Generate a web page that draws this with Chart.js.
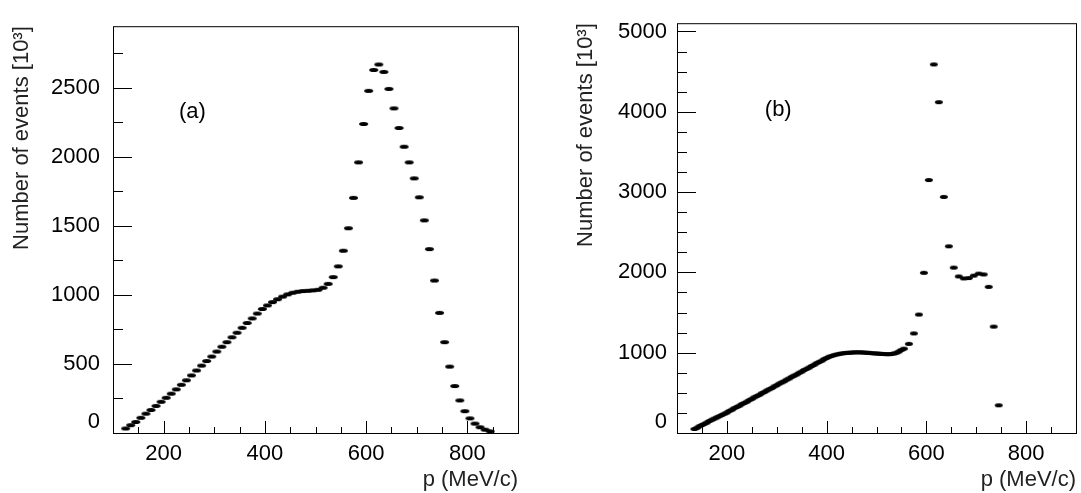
<!DOCTYPE html>
<html>
<head>
<meta charset="utf-8">
<script src="https://cdn.jsdelivr.net/npm/chart.js@4"></script>
<style>
  body { margin: 0; background: #fff; width: 1081px; height: 493px; overflow: hidden; position: relative; }
  .panel { position: absolute; top: 0; height: 493px; }
</style>
</head>
<body>
<div class="panel" style="left:0;width:540px"><canvas id="chartA"></canvas></div>
<div class="panel" style="left:540px;width:541px"><canvas id="chartB"></canvas></div>
<script>
// panel (a)
const pA = [125,135,145,155,165,175,185,195,205,215,225,235,245,255,265,275,285,295,305,315,
  325,335,345,355,365,375,385,395,405,415,425,435,445,455,465,475,485,495,505,515,
  525,535,545,555,565,575,585,595,605,615,625,635,645,655,665,675,685,695,705,715,
  725,735,745,755,765,775,785,795,805,815,825,835,845];
const nA = [33,57,80,110,140,167,196,226,255,285,316,349,382,417,453,488,521,554,590,625,
  658,693,726,762,797,830,865,898,924,948,969,988,1004,1016,1023,1028,1030,1033,1037,1052,
  1080,1129,1207,1320,1483,1703,1960,2238,2478,2629,2669,2615,2492,2351,2209,2073,1960,1844,1707,1540,
  1332,1104,870,658,481,340,236,158,106,68,42,24,12];

// panel (b)
const pB = [135,140,145,150,155,160,165,170,175,180,185,190,195,200,205,210,215,220,225,230,
  235,240,245,250,255,260,265,270,275,280,285,290,295,300,305,310,315,320,325,330,
  335,340,345,350,355,360,365,370,375,380,385,390,395,400,405,410,415,420,425,430,
  435,440,445,450,455,460,465,470,475,480,485,490,495,500,505,510,515,520,525,530,
  535,540,545,550,555,565,575,585,595,605,615,625,635,645,655,665,675,685,695,705,
  715,725,735,745];
const nB = [50,65,85,100,115,130,150,165,180,195,210,225,240,255,275,290,310,325,340,360,
  375,390,410,425,445,460,475,495,510,530,545,560,580,595,615,630,645,665,680,700,
  715,730,750,765,785,800,815,835,850,870,885,900,920,935,950,960,970,978,985,990,
  995,998,1000,1002,1004,1005,1005,1004,1002,1000,998,995,992,990,988,986,984,982,982,984,
  990,1000,1015,1035,1050,1110,1240,1475,1995,3150,4590,4120,2940,2325,2060,1950,1925,1930,1960,1985,
  1975,1820,1325,345];

const xTicks = [200, 400, 600, 800];
const yTicksA = [0, 500, 1000, 1500, 2000, 2500];
const yTicksB = [0, 1000, 2000, 3000, 4000, 5000];

const FONT = 'Liberation Sans, Arial, sans-serif';
const FS = 22;

function dotImage(w, h) {
  const c = document.createElement('canvas');
  c.width = w + 2; c.height = h + 2;
  const g = c.getContext('2d');
  g.fillStyle = '#000';
  g.beginPath();
  g.ellipse(c.width / 2, c.height / 2, w / 2, h / 2, 0, 0, Math.PI * 2);
  g.fill();
  return c;
}

// ROOT style ticks drawn inside the frame, plus frame, "0" label and panel tag
const innerTicks = {
  id: 'innerTicks',
  afterDraw(chart, args, opts) {
    const g = chart.ctx, a = chart.chartArea;
    const x = chart.scales.x, y = chart.scales.y;
    g.save();
    g.strokeStyle = '#000';
    g.lineWidth = 1;
    g.strokeRect(a.left + 0.5, a.top + 0.5, a.right - a.left, a.bottom - a.top);
    g.beginPath();
    for (let v = 100; v <= x.max; v += 50) {
      const px = Math.round(x.getPixelForValue(v)) + 0.5;
      if (px < a.left + 1 || px > a.right - 1) continue;
      const len = v % 200 === 0 ? 12 : 6;
      g.moveTo(px, a.bottom); g.lineTo(px, a.bottom - len);
    }
    for (let v = 250; v <= y.max; v += 250) {
      const py = Math.round(y.getPixelForValue(v)) + 0.5;
      if (py < a.top + 1) continue;
      const len = v % opts.yMajor === 0 ? 19 : 10;
      g.moveTo(a.left, py); g.lineTo(a.left + len, py);
    }
    g.stroke();
    g.font = FS + 'px ' + FONT;
    g.fillStyle = '#000';
    g.textAlign = 'right';
    g.textBaseline = 'middle';
    g.fillText('0', a.left - opts.gap, a.bottom - 11);
    g.textAlign = 'center';
    g.fillText(opts.label, x.getPixelForValue(opts.lx), y.getPixelForValue(opts.ly));
    g.restore();
  }
};

function makeChart(id, px, py, cfg) {
  return new Chart(document.getElementById(id), {
    type: 'scatter',
    data: {
      datasets: [{
        data: px.map((p, i) => ({ x: p, y: py[i] })),
        pointStyle: cfg.dot,
        pointRadius: 4,
        pointHoverRadius: 4,
      }],
    },
    options: {
      responsive: true,
      maintainAspectRatio: false,
      animation: false,
      events: [],
      layout: { padding: { top: 13, right: cfg.right, left: cfg.padLeft, bottom: 0 } },
      plugins: {
        legend: { display: false },
        tooltip: { enabled: false },
        innerTicks: cfg.ticks,
      },
      scales: {
        x: {
          type: 'linear', min: 100, max: 900,
          afterFit: (s) => { s.height = 60; },
          afterBuildTicks: (s) => { s.ticks = xTicks.map(v => ({ value: v })); },
          grid: { display: false, drawTicks: false },
          border: { display: false },
          ticks: { color: '#000', font: { family: FONT, size: FS }, padding: 8, maxRotation: 0, callback: (v) => String(v) },
          title: { display: true, text: 'p (MeV/c)', align: 'end', color: '#222', font: { family: FONT, size: FS }, padding: { top: -6, bottom: 0 } },
        },
        y: {
          type: 'linear', min: 0, max: cfg.yMax,
          afterFit: (s) => { s.width = cfg.left - cfg.padLeft; },
          afterBuildTicks: (s) => { s.ticks = cfg.yTicks.map(v => ({ value: v })); },
          grid: { display: false, drawTicks: false },
          border: { display: false },
          ticks: { color: '#000', font: { family: FONT, size: FS }, padding: cfg.ticks.gap,
            callback: (v) => v === 0 ? '' : String(v) },
          title: { display: true, text: 'Number of events [10³]', align: 'end', color: '#222', font: { family: FONT, size: FS }, padding: { top: 0, bottom: 0 } },
        },
      },
    },
    plugins: [innerTicks],
  });
}

makeChart('chartA', pA, nA, {
  dot: dotImage(9, 4), left: 113, padLeft: 9, right: 22, yMax: 2946,
  yTicks: yTicksA,
  ticks: { yMajor: 500, gap: 13, label: '(a)', lx: 257, ly: 2324 },
});
makeChart('chartB', pB, nB, {
  dot: dotImage(8, 4), left: 137, padLeft: 33, right: 1, yMax: 5103,
  yTicks: yTicksB,
  ticks: { yMajor: 1000, gap: 10, label: '(b)', lx: 303, ly: 4024 },
});
</script>
</body>
</html>
